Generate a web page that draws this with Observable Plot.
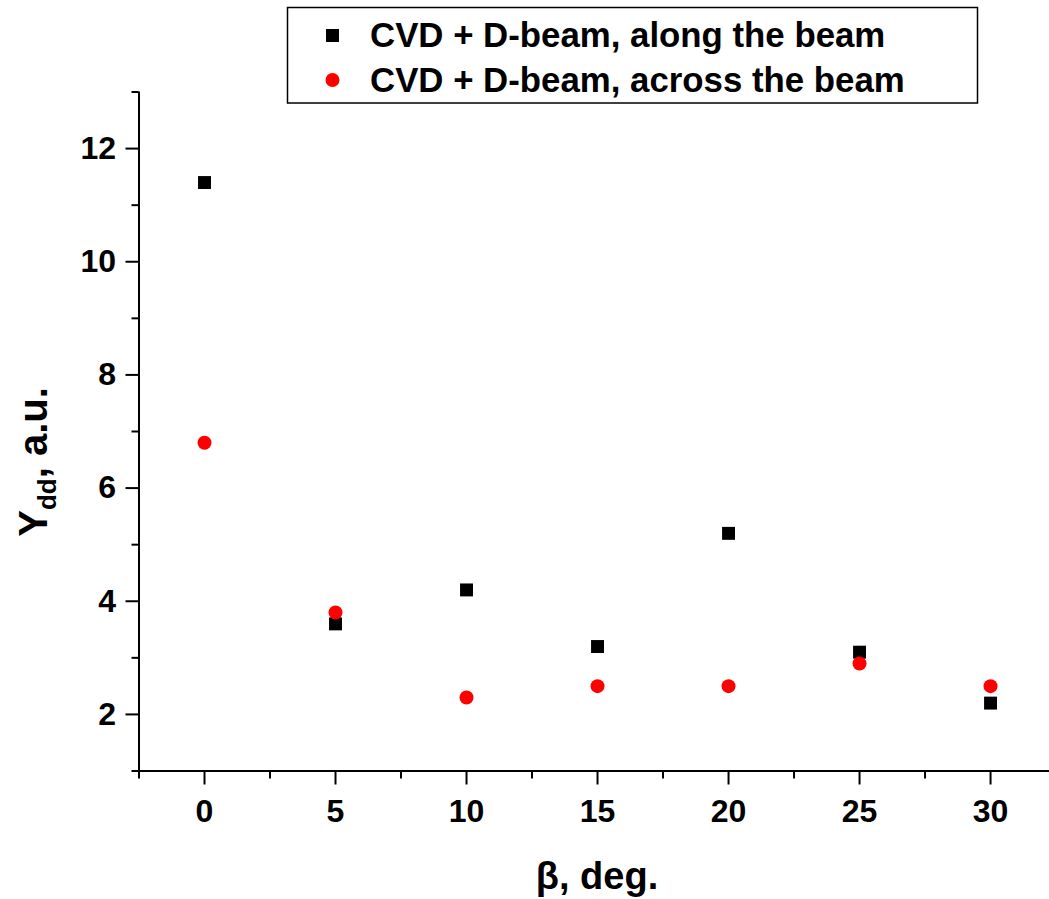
<!DOCTYPE html>
<html>
<head>
<meta charset="utf-8">
<script src="https://cdn.jsdelivr.net/npm/d3@7"></script>
<script src="https://cdn.jsdelivr.net/npm/@observablehq/plot@0.6"></script>
<style>
  html, body { margin: 0; padding: 0; background: #fff; }
  #chart { position: relative; width: 1049px; height: 899px; }
</style>
</head>
<body>
<div id="chart"></div>
<script>
// Data
const angles = [0, 5, 10, 15, 20, 25, 30];
const alongBeam = [11.4, 3.6, 4.2, 3.2, 5.2, 3.1, 2.2];
const acrossBeam = [6.8, 3.8, 2.3, 2.5, 2.5, 2.9, 2.5];
const seriesNames = ["CVD + D-beam, along the beam", "CVD + D-beam, across the beam"];
const xMajorTicks = [0, 5, 10, 15, 20, 25, 30];
const xMinorTicks = [-2.5, 2.5, 7.5, 12.5, 17.5, 22.5, 27.5];
const yMajorTicks = [2, 4, 6, 8, 10, 12];
const yMinorTicks = [1, 3, 5, 7, 9, 11, 13];

const along = angles.map((a, i) => ({x: a, y: alongBeam[i]}));
const across = angles.map((a, i) => ({x: a, y: acrossBeam[i]}));

const FONT = "'Liberation Sans', Arial, Helvetica, sans-serif";

const plot = Plot.plot({
  width: 1049,
  height: 899,
  marginTop: 91.5,
  marginBottom: 128.5,
  marginLeft: 138.5,
  marginRight: 0,
  style: {fontFamily: FONT, fontWeight: "bold", color: "black", background: "white"},
  x: {domain: [-2.5, 32.25]},
  y: {domain: [1, 13]},
  marks: [
    Plot.ruleX([-2.5], {stroke: "black", strokeWidth: 2}),
    Plot.ruleY([1], {stroke: "black", strokeWidth: 2}),
    Plot.axisX({ticks: xMajorTicks, tickSize: 14, tickPadding: 14, fontSize: 32, fontWeight: "bold", strokeWidth: 2, label: null, tickFormat: d => String(d)}),
    Plot.axisX({ticks: xMinorTicks, tickSize: 8, strokeWidth: 2, label: null, tickFormat: () => ""}),
    Plot.axisY({ticks: yMajorTicks, tickSize: 13, tickPadding: 10, fontSize: 32, fontWeight: "bold", strokeWidth: 2, label: null, tickFormat: d => String(d)}),
    Plot.axisY({ticks: yMinorTicks, tickSize: 7, strokeWidth: 2, label: null, tickFormat: () => ""}),
    Plot.dot(along, {x: "x", y: "y", symbol: "square", r: 7.3, fill: "black", stroke: "none"}),
    Plot.dot(across, {x: "x", y: "y", symbol: "circle", r: 7, fill: "red", stroke: "none"})
  ]
});

document.getElementById("chart").appendChild(plot);

const svg = d3.select(plot);

// Y axis label with subscript
const yl = svg.append("text")
  .attr("transform", "translate(47,462) rotate(-90)")
  .attr("text-anchor", "middle")
  .attr("font-family", FONT)
  .attr("font-weight", "bold")
  .attr("font-size", 40)
  .attr("fill", "black");
yl.append("tspan").text("Y");
yl.append("tspan").attr("font-size", 26).attr("dy", 9).text("dd");
yl.append("tspan").attr("dy", -9).text(", a.u.");

// X axis label
svg.append("text")
  .attr("x", 597).attr("y", 889)
  .attr("text-anchor", "middle")
  .attr("font-family", FONT)
  .attr("font-weight", "bold")
  .attr("font-size", 38)
  .attr("fill", "black")
  .text("β, deg.");

// Legend
const lg = svg.append("g");
lg.append("rect")
  .attr("x", 287.5).attr("y", 7.5).attr("width", 690).attr("height", 95.5)
  .attr("fill", "white").attr("stroke", "black").attr("stroke-width", 1.5);
lg.append("rect").attr("x", 326).attr("y", 29).attr("width", 13).attr("height", 13).attr("fill", "black");
lg.append("circle").attr("cx", 332.5).attr("cy", 80).attr("r", 7).attr("fill", "red");
lg.selectAll("text.leg").data(seriesNames).join("text")
  .attr("class", "leg")
  .attr("x", 370)
  .attr("y", (d, i) => i === 0 ? 47 : 92)
  .attr("text-anchor", "start")
  .attr("font-family", FONT)
  .attr("font-weight", "bold")
  .attr("font-size", 34.8)
  .attr("fill", "black")
  .text(d => d);
</script>
</body>
</html>
